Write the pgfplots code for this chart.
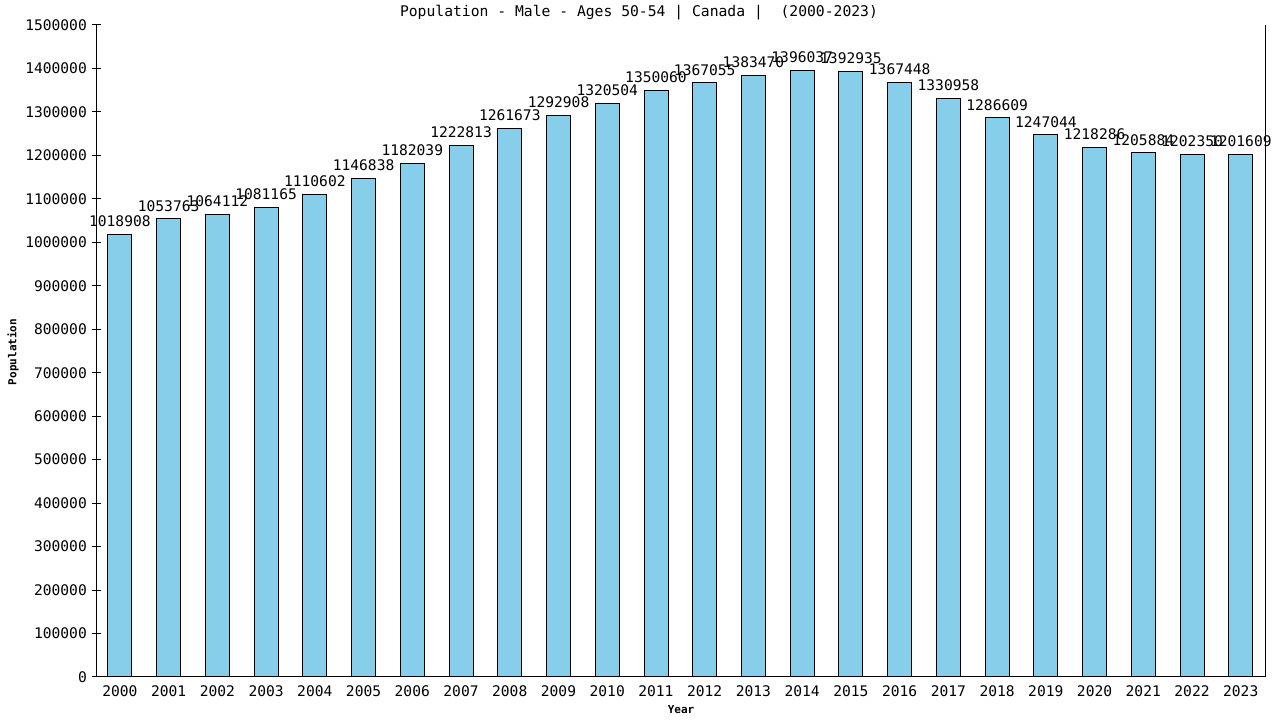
\documentclass[border=0pt]{standalone}
\usepackage{fontspec}
\setmainfont{DejaVu Sans Mono}
\usepackage{pgfplots}
\usepackage{pgfplotstable}
\pgfplotsset{compat=1.18}

\definecolor{barblue}{HTML}{87CEEB}

\pgfplotstableread{
year pop
2000 1018908
2001 1053763
2002 1064112
2003 1081165
2004 1110602
2005 1146838
2006 1182039
2007 1222813
2008 1261673
2009 1292908
2010 1320504
2011 1350060
2012 1367055
2013 1383470
2014 1396037
2015 1392935
2016 1367448
2017 1330958
2018 1286609
2019 1247044
2020 1218286
2021 1205884
2022 1202350
2023 1201609
}\popdata

\begin{document}
\begin{tikzpicture}
\useasboundingbox (0pt,0pt) rectangle (1280pt,720pt);
\begin{axis}[
    at={(96.5pt,43pt)}, anchor=south west,
    scale only axis,
    width=1169.2pt, height=652pt,
    xmin=1999.52, xmax=2023.51,
    ymin=0, ymax=1500000,
    axis x line*=bottom, axis y line*=left,
    axis line style={line width=1pt, -},
    xtick={2000,...,2023},
    xticklabel style={anchor=north, inner sep=0pt, yshift=1pt,
        /pgf/number format/1000 sep={}},
    x tick style={draw=none},
    ytick={0,100000,...,1500000},
    scaled y ticks=false,
    yticklabel style={anchor=east, inner sep=0pt, xshift=-5pt},
    /pgf/number format/fixed,
    /pgf/number format/1000 sep={},
    /pgf/number format/assume math mode=true,
    major tick length=9pt,
    y tick style={line width=1pt, black},
    tick align=center,
    ticklabel style={font=\fontsize{14.6}{17}\selectfont},
    ybar, bar width=24pt, bar shift=0pt,
    nodes near coords,
    point meta=explicit symbolic,
    every node near coord/.append style={anchor=south, inner sep=0pt, yshift=7pt,
        font=\fontsize{14.6}{17}\selectfont},
    clip=false,
]
\addplot[fill=barblue, draw=black, line width=1pt] table[x=year, y=pop, meta=pop] {\popdata};
\draw[line width=1pt] (rel axis cs:1,0) -- (rel axis cs:1,1);
\end{axis}
\node[font=\fontsize{14.7}{17}\selectfont] at (639pt,707pt) {Population - Male - Ages 50-54 | Canada |\ \ (2000-2023)};
\node[font=\fontsize{11}{13}\bfseries\selectfont] at (681pt,10pt) {Year};
\node[font=\fontsize{11}{13}\bfseries\selectfont, rotate=90] at (13pt,368pt) {Population};
\end{tikzpicture}
\end{document}
